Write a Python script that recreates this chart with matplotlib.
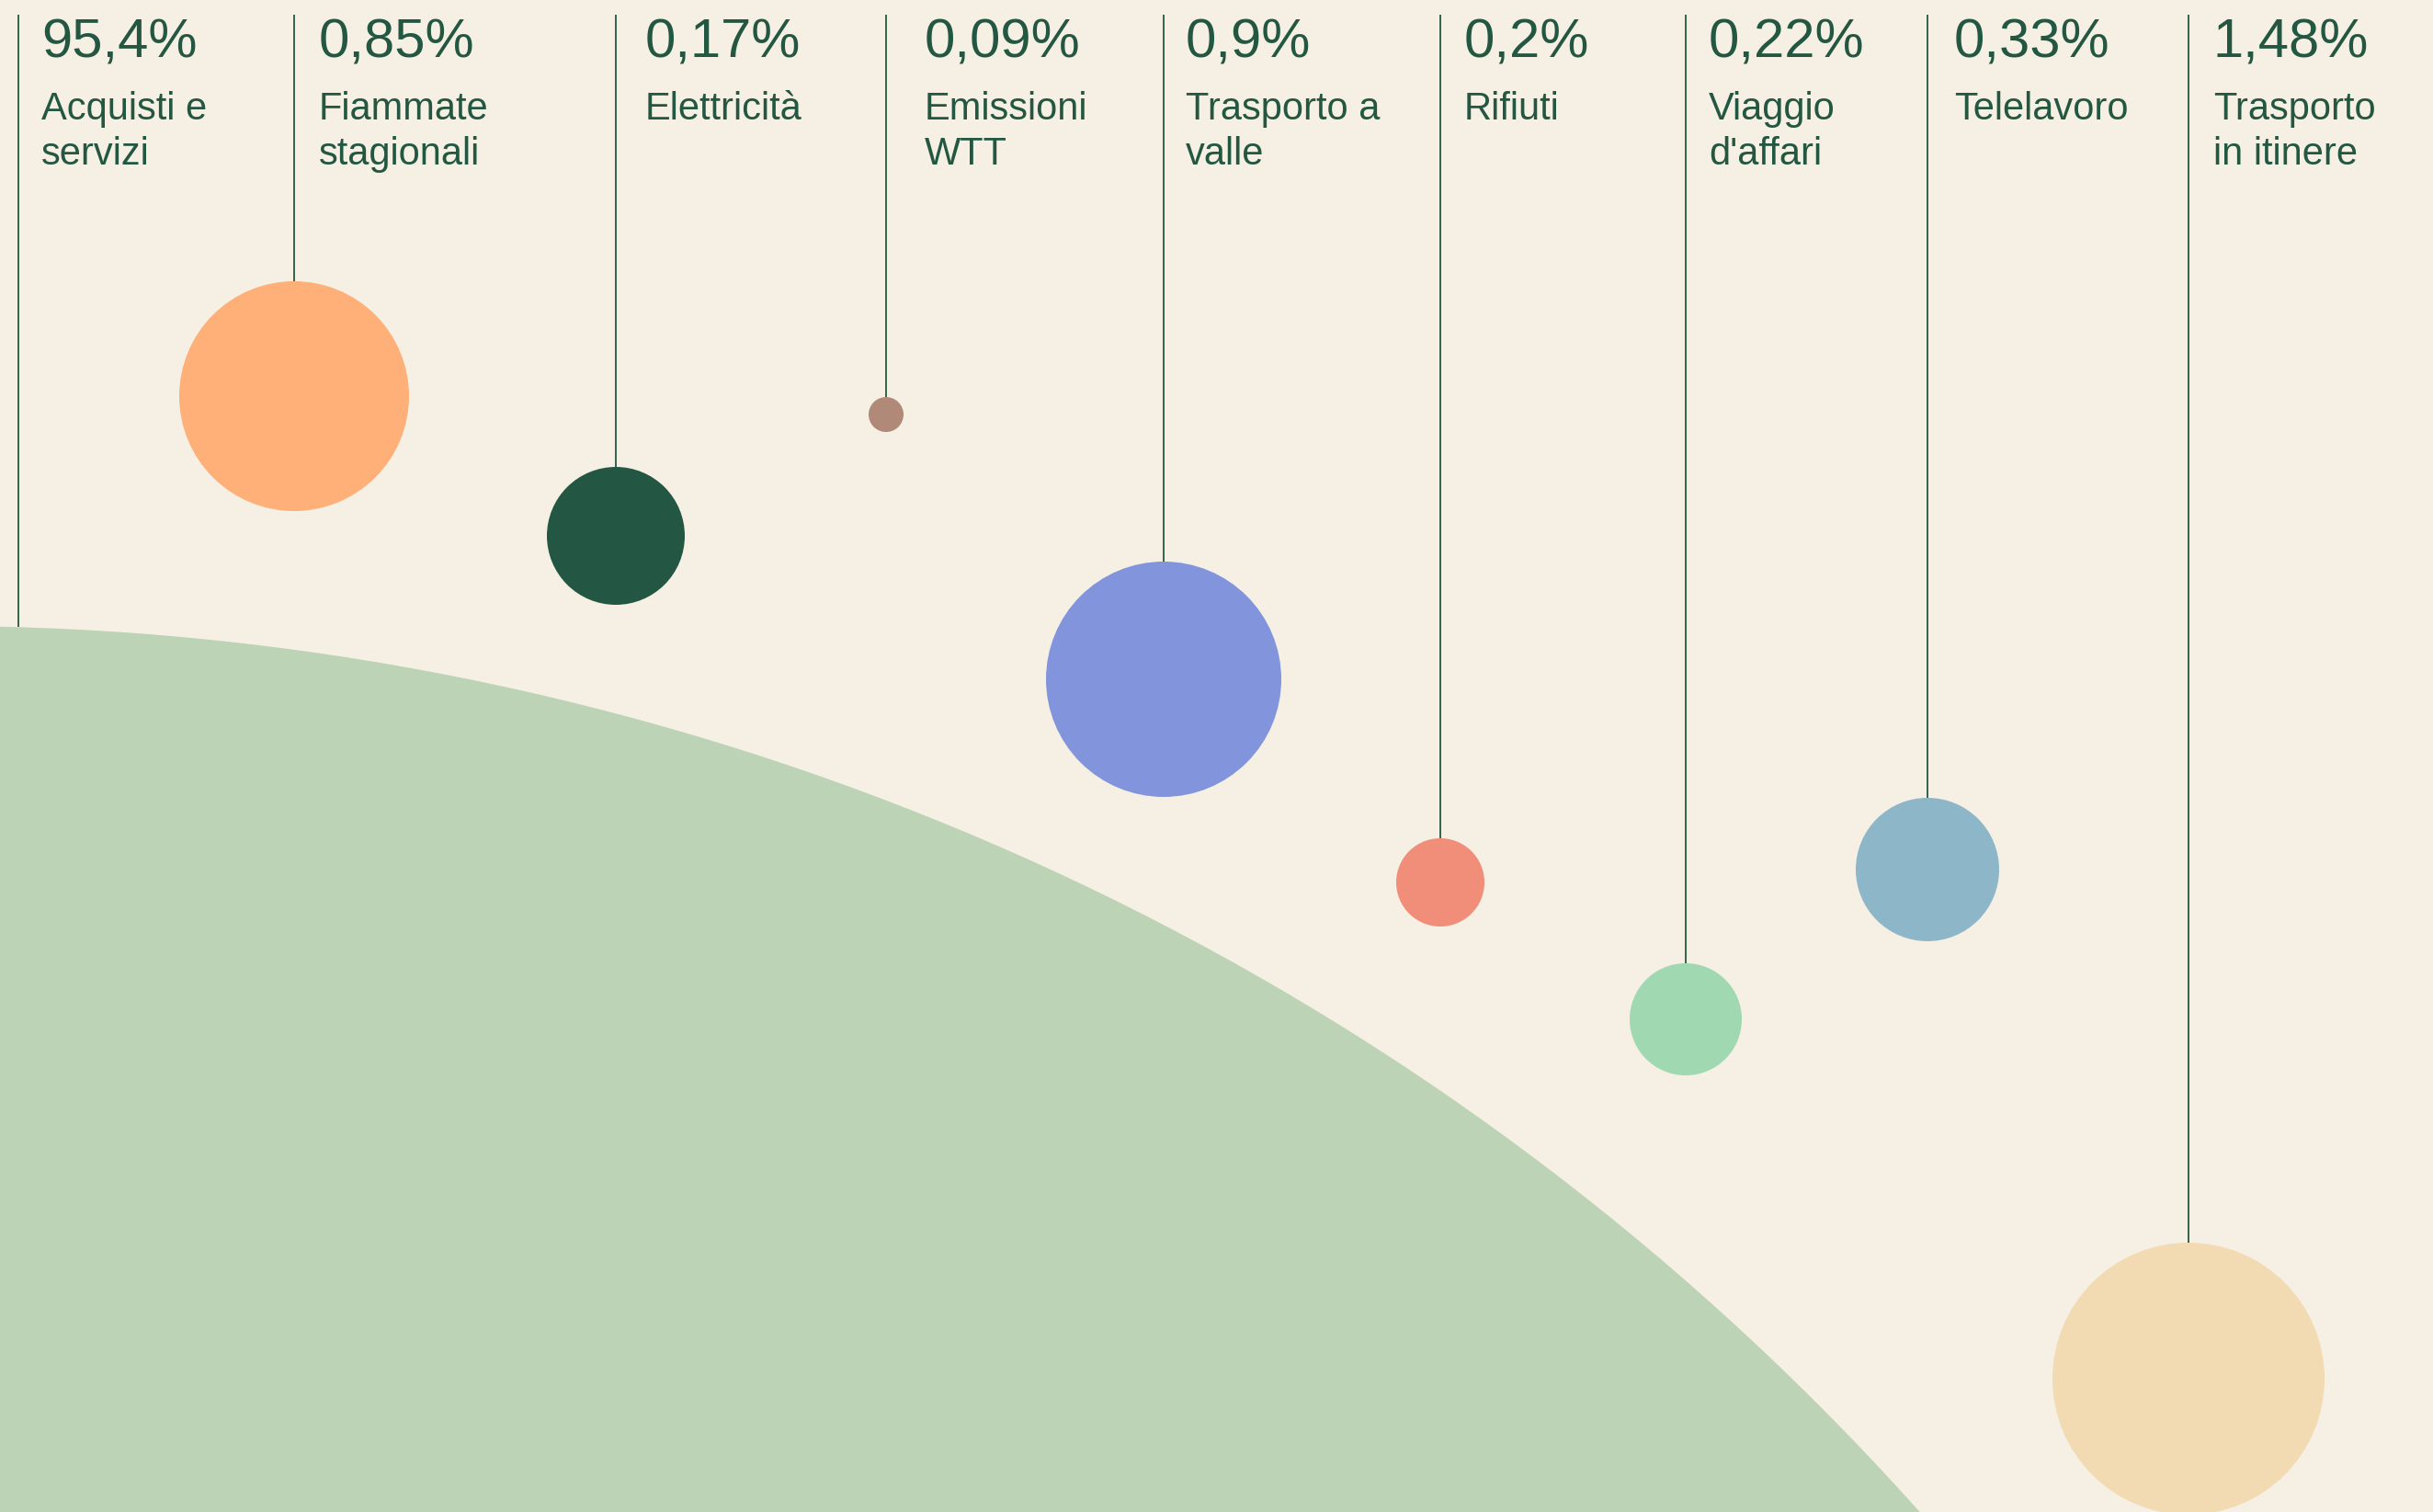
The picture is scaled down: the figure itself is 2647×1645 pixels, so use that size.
import matplotlib
matplotlib.use("Agg")
import matplotlib.pyplot as plt
from matplotlib.patches import Circle

plt.rcParams['font.family'] = ['Liberation Sans', 'DejaVu Sans']

# ---- data ----
categories = ["Acquisti e\nservizi", "Fiammate\nstagionali", "Elettricità", "Emissioni\nWTT",
              "Trasporto a\nvalle", "Rifiuti", "Viaggio\nd'affari", "Telelavoro",
              "Trasporto\nin itinere"]
shares = [95.4, 0.85, 0.17, 0.09, 0.9, 0.2, 0.22, 0.33, 1.48]
colors = ["#BCD3B5", "#FFAF78", "#235743", "#B08978", "#8294DC",
          "#F08E7A", "#A0D8B2", "#8DB6C8", "#F2DBB2"]

# bubble layout (canvas units)
bubble_x = [-66, 320, 670, 964, 1266, 1567, 1834, 2097, 2381]
bubble_y = [3571, 431, 583, 451, 739, 960, 1109, 946, 1500]
bubble_r = [2890, 125, 75, 19, 128, 48, 61, 78, 148]
line_x = [20, 320, 670, 964, 1266, 1567, 1834, 2097, 2381]
text_x = [45, 347, 702, 1006, 1290, 1593, 1859, 2126, 2408]

BG = "#F6F0E4"
INK = "#235741"
W, H = 2647, 1645

fig = plt.figure(figsize=(W / 100, H / 100), dpi=100, facecolor=BG)
ax = fig.add_axes([0, 0, 1, 1])
ax.set_facecolor(BG)
ax.set_xlim(0, W)
ax.set_ylim(H, 0)
ax.set_aspect('equal')
ax.axis('off')

for i, (cat, v) in enumerate(zip(categories, shares)):
    cx, cy, r = bubble_x[i], bubble_y[i], bubble_r[i]
    ax.add_patch(Circle((cx, cy), r, facecolor=colors[i], edgecolor='none', zorder=1))
    lx = line_x[i]
    top = cy - (r ** 2 - (lx - cx) ** 2) ** 0.5
    ax.plot([lx, lx], [16, top], color=INK, lw=1.3, solid_capstyle='butt', zorder=2)
    pct = f"{v}".replace('.', ',') + '%'
    ax.text(text_x[i], 62, pct, fontsize=43, color=INK, ha='left', va='baseline', zorder=3)
    for j, line in enumerate(cat.split("\n")):
        ax.text(text_x[i], 130 + 49 * j, line, fontsize=30, color=INK,
                ha='left', va='baseline', zorder=3)

fig.savefig("out.png", dpi=100, facecolor=BG)
